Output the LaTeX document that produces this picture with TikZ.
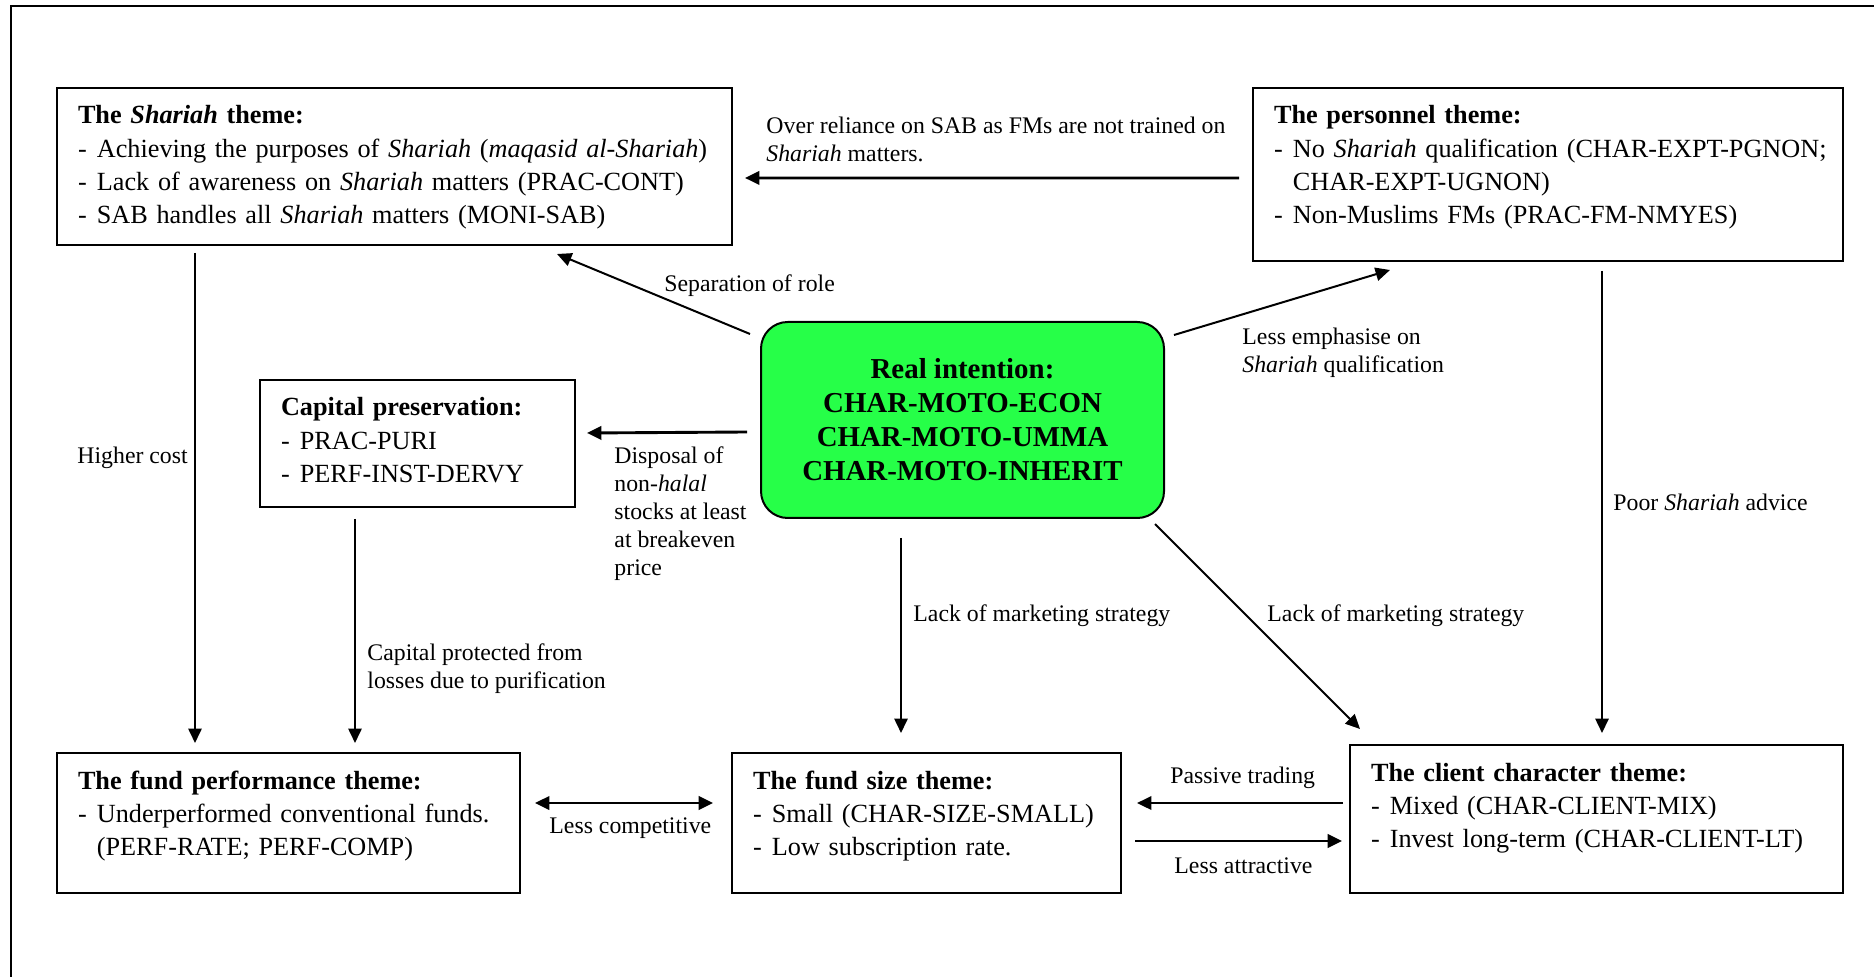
\documentclass[tikz,border=0pt]{standalone}
\usepackage{fontspec}
\setmainfont{Liberation Serif}
\usetikzlibrary{arrows.meta,calc}
\definecolor{grn}{RGB}{38,255,72}
\newcommand{\dsh}{\makebox[8.5pt][l]{-}}
\newcommand{\hng}{\hspace*{8.5pt}}
\tikzset{
    >={Triangle[length=6.5pt,width=6pt]},
    theme/.style={draw,line width=0.9pt,anchor=north west,inner xsep=0pt,inner ysep=0pt,
        align=left,font=\fontsize{11.8}{15}\selectfont,text height=16.2pt,
        execute at begin node={\leftskip=9.45pt\relax}},
    core/.style={draw,line width=0.9pt,fill=grn,rounded corners=12pt,align=center,
        minimum width=181.35pt,minimum height=88.2pt,
        font=\fontsize{13}{15.3}\selectfont\bfseries},
    lbl/.style={anchor=west,inner sep=0pt,align=left,font=\fontsize{10.7}{12.6}\selectfont},
    arr/.style={line width=0.9pt,->},
    harr/.style={line width=1.3pt,->}
}
\begin{document}
\begin{tikzpicture}[x=0.45pt,y=-0.45pt]
    \useasboundingbox (0,0) rectangle (1874,977);
    \draw[line width=0.9pt] (11,977) -- (11,6) -- (1874,6);
    % themes
    \node[theme,text width=303.75pt,text depth=54.45pt] (shariah) at (56,87) {%
        \textbf{The \textit{Shariah} theme:}\\
        \dsh Achieving the purposes of \textit{Shariah} (\textit{maqasid al-Shariah})\\
        \dsh Lack of awareness on \textit{Shariah} matters (PRAC-CONT)\\
        \dsh SAB handles all \textit{Shariah} matters (MONI-SAB)};
    \node[theme,text width=265.5pt,text depth=61.65pt] (personnel) at (1252,87) {%
        \textbf{The personnel theme:}\\
        \dsh No \textit{Shariah} qualification (CHAR-EXPT-PGNON;\\
        \hng CHAR-EXPT-UGNON)\\
        \dsh Non-Muslims FMs (PRAC-FM-NMYES)};
    \node[theme,text width=141.75pt,text depth=40.95pt] (capital) at (259,379) {%
        \textbf{Capital preservation:}\\
        \dsh PRAC-PURI\\
        \dsh PERF-INST-DERVY};
    \node[theme,text width=208.35pt,text depth=46.8pt] (perf) at (56,752) {%
        \textbf{The fund performance theme:}\\
        \dsh Underperformed conventional funds.\\
        \hng (PERF-RATE; PERF-COMP)};
    \node[theme,text width=175.05pt,text depth=46.8pt] (size) at (731,752) {%
        \textbf{The fund size theme:}\\
        \dsh Small (CHAR-SIZE-SMALL)\\
        \dsh Low subscription rate.};
    \node[theme,text width=221.85pt,text depth=50.4pt] (client) at (1349,744) {%
        \textbf{The client character theme:}\\
        \dsh Mixed (CHAR-CLIENT-MIX)\\
        \dsh Invest long-term (CHAR-CLIENT-LT)};
    \node[core] (intent) at (962.5,420) {Real intention:\\CHAR-MOTO-ECON\\CHAR-MOTO-UMMA\\CHAR-MOTO-INHERIT};
    % labels
    \node[lbl] (ovr) at (766,139) {Over reliance on SAB as FMs are not trained on\\\textit{Shariah} matters.};
    \node[lbl] (sep) at (664,286) {Separation of role};
    \node[lbl] (emph) at (1242,353) {Less emphasise on\\\textit{Shariah} qualification};
    \node[lbl] (disp) at (614,514) {Disposal of\\non-\textit{halal}\\stocks at least\\at breakeven\\price};
    \node[lbl] (cost) at (77,458) {Higher cost};
    \node[lbl] (prot) at (367,669) {Capital protected from\\losses due to purification};
    \node[lbl] (mkta) at (913,616) {Lack of marketing strategy};
    \node[lbl] (mktb) at (1267,616) {Lack of marketing strategy};
    \node[lbl] (poor) at (1613,502) {Poor \textit{Shariah} advice};
    \node[lbl] (comp) at (549,828) {Less competitive};
    \node[lbl] (pass) at (1170,778) {Passive trading};
    \node[lbl] (attr) at (1174,866) {Less attractive};
    % arrows
    \draw[harr] ($(personnel.west)+(-13,3.5)$) -- ($(shariah.east)+(12,11.5)$);
    \draw[arr] ($(intent.north west)+(-10,13)$) -- ($(shariah.south east)+(-176,8)$);
    \draw[arr] ($(intent.north east)+(9,14)$) -- ($(personnel.south west)+(138,8)$);
    \draw[harr] ($(intent.west)+(-13,12)$) -- ($(capital.east)+(11,-10.5)$);
    \draw[arr] ($(shariah.south west)+(139,7)$) -- ($(perf.north west)+(139,-9)$);
    \draw[arr] ($(capital.south west)+(96,11)$) -- ($(perf.north west)+(299,-9)$);
    \draw[arr] ($(intent.south)+(-61.5,19)$) -- ($(size.north west)+(170,-19)$);
    \draw[arr] ($(intent.south east)+(-10,5)$) -- ($(client.north west)+(11,-15)$);
    \draw[arr] ($(personnel.south west)+(350,9)$) -- ($(client.north west)+(253,-11)$);
    \draw[harr,<->] ($(perf.east)+(14,-20)$) -- ($(size.west)+(-18,-20)$);
    \draw[harr] ($(client.west)+(-6,-16)$) -- ($(size.east)+(15,-20)$);
    \draw[harr] ($(size.east)+(13,18)$) -- ($(client.west)+(-7,22)$);
\end{tikzpicture}
\end{document}
